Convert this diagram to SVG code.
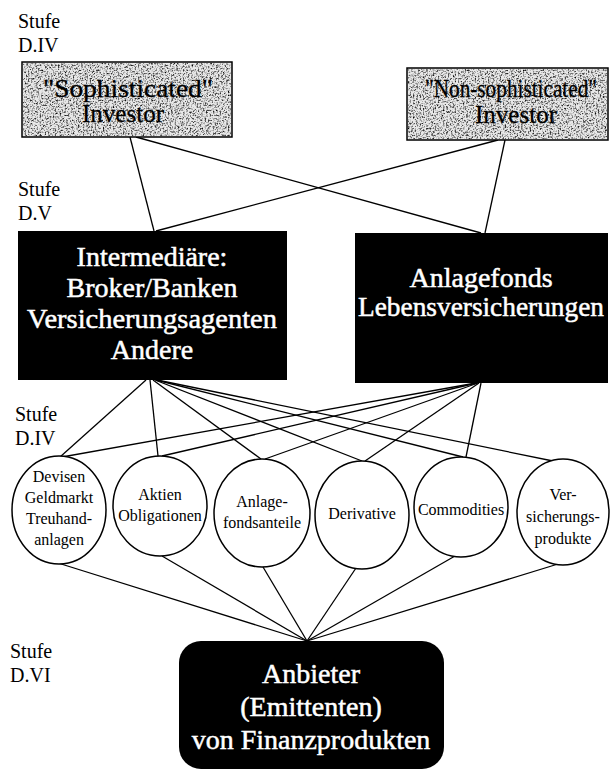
<svg xmlns="http://www.w3.org/2000/svg" width="610" height="770" viewBox="0 0 610 770">
<style>
.lvl{font-family:"Liberation Serif","Times New Roman",serif;font-size:20px;fill:#000}
.inv{font-family:"Liberation Serif","Times New Roman",serif;font-size:25px;fill:#000;stroke:#000;stroke-width:0.3;text-anchor:middle}
.blk{fill:#000}
.wt{font-family:"Liberation Serif","Times New Roman",serif;font-size:28px;fill:#fff;stroke:#fff;stroke-width:0.5;text-anchor:middle}
.ct{font-family:"Liberation Serif","Times New Roman",serif;font-size:16px;fill:#000;text-anchor:middle}
.circ{fill:#fff;stroke:#000;stroke-width:1.5}
.gbox{fill:#e8e8e8;stroke:#000;stroke-width:1.5}
#connectors line{stroke:#000;stroke-width:1.3}
</style>
<defs>
<filter id="grain" x="0" y="0" width="100%" height="100%">
<feTurbulence type="fractalNoise" baseFrequency="0.6" numOctaves="2" seed="4" result="n"/>
<feColorMatrix in="n" type="matrix" values="0 0 0 0 0  0 0 0 0 0  0 0 0 0 0  -2.6 0 0 0 1.4" result="a"/>
<feComposite in="a" in2="SourceGraphic" operator="in"/>
</filter>
</defs>
<rect width="610" height="770" fill="#fff"/>

<g id="labels">
<text class="lvl" x="18" y="28">Stufe</text>
<text class="lvl" x="18" y="52">D.IV</text>
<text class="lvl" x="18" y="196">Stufe</text>
<text class="lvl" x="18" y="220">D.V</text>
<text class="lvl" x="15" y="421">Stufe</text>
<text class="lvl" x="15" y="445">D.IV</text>
<text class="lvl" x="10" y="658">Stufe</text>
<text class="lvl" x="10" y="682">D.VI</text>
</g>

<g id="connectors">
<line x1="130" y1="137" x2="154" y2="231"/>
<line x1="136" y1="137" x2="481" y2="233"/>
<line x1="498" y1="140" x2="156" y2="231"/>
<line x1="505" y1="140" x2="485" y2="233"/>

<line x1="146" y1="380" x2="60" y2="457"/>
<line x1="150" y1="380" x2="158" y2="456"/>
<line x1="153" y1="380" x2="261" y2="459"/>
<line x1="155" y1="380" x2="362" y2="461"/>
<line x1="156" y1="380" x2="463" y2="457"/>
<line x1="157" y1="380" x2="553" y2="461"/>

<line x1="476" y1="383" x2="62" y2="457"/>
<line x1="477" y1="383" x2="162" y2="456"/>
<line x1="478" y1="383" x2="265" y2="459"/>
<line x1="479" y1="383" x2="365" y2="461"/>
<line x1="481" y1="383" x2="466" y2="457"/>

<line x1="58" y1="563" x2="307" y2="641"/>
<line x1="162" y1="556" x2="307" y2="641"/>
<line x1="263" y1="567" x2="307" y2="641"/>
<line x1="356" y1="568" x2="307" y2="641"/>
<line x1="455" y1="556" x2="307" y2="641"/>
<line x1="558" y1="564" x2="307" y2="641"/>
</g>

<g id="n_soph">
<rect class="gbox" x="22" y="62" width="210" height="75"/>
<rect x="23" y="63" width="208" height="73" fill="#000" filter="url(#grain)"/>
<text class="inv" x="128" y="97" textLength="170" lengthAdjust="spacingAndGlyphs">"Sophisticated"</text>
<text class="inv" x="123" y="122">Investor</text>
</g>

<g id="n_nonsoph">
<rect class="gbox" x="407" y="68" width="201" height="72"/>
<rect x="408" y="69" width="199" height="70" fill="#000" filter="url(#grain)"/>
<text class="inv" x="511" y="97" textLength="172" lengthAdjust="spacingAndGlyphs">"Non-sophisticated"</text>
<text class="inv" x="516" y="123">Investor</text>
</g>

<g id="n_inter">
<rect class="blk" x="18" y="231" width="269" height="149"/>
<text class="wt" x="152" y="266">Intermediäre:</text>
<text class="wt" x="152" y="297">Broker/Banken</text>
<text class="wt" x="152" y="328" textLength="250" lengthAdjust="spacingAndGlyphs">Versicherungsagenten</text>
<text class="wt" x="152" y="359">Andere</text>
</g>

<g id="n_fonds">
<rect class="blk" x="355" y="233" width="253" height="150"/>
<text class="wt" x="481" y="287">Anlagefonds</text>
<text class="wt" x="481" y="316" textLength="246" lengthAdjust="spacingAndGlyphs">Lebensversicherungen</text>
</g>

<g id="c1">
<ellipse class="circ" cx="59" cy="510" rx="47" ry="54"/>
<text class="ct" x="59" y="482">Devisen</text>
<text class="ct" x="59" y="503">Geldmarkt</text>
<text class="ct" x="59" y="524">Treuhand-</text>
<text class="ct" x="59" y="545">anlagen</text>
</g>
<g id="c2">
<ellipse class="circ" cx="160" cy="506" rx="47" ry="50"/>
<text class="ct" x="160" y="500">Aktien</text>
<text class="ct" x="160" y="521">Obligationen</text>
</g>
<g id="c3">
<ellipse class="circ" cx="262" cy="513" rx="48" ry="54"/>
<text class="ct" x="262" y="507">Anlage-</text>
<text class="ct" x="262" y="528">fondsanteile</text>
</g>
<g id="c4">
<ellipse class="circ" cx="362" cy="515" rx="47" ry="54"/>
<text class="ct" x="362" y="519">Derivative</text>
</g>
<g id="c5">
<ellipse class="circ" cx="461" cy="507" rx="47" ry="50"/>
<text class="ct" x="461" y="515">Commodities</text>
</g>
<g id="c6">
<ellipse class="circ" cx="563" cy="512" rx="46" ry="53"/>
<text class="ct" x="563" y="500">Ver-</text>
<text class="ct" x="563" y="522">sicherungs-</text>
<text class="ct" x="563" y="544">produkte</text>
</g>

<g id="n_anbieter">
<rect class="blk" x="179" y="641" width="265" height="128" rx="22"/>
<text class="wt" x="311" y="683">Anbieter</text>
<text class="wt" x="311" y="716">(Emittenten)</text>
<text class="wt" x="311" y="749">von Finanzprodukten</text>
</g>
</svg>
